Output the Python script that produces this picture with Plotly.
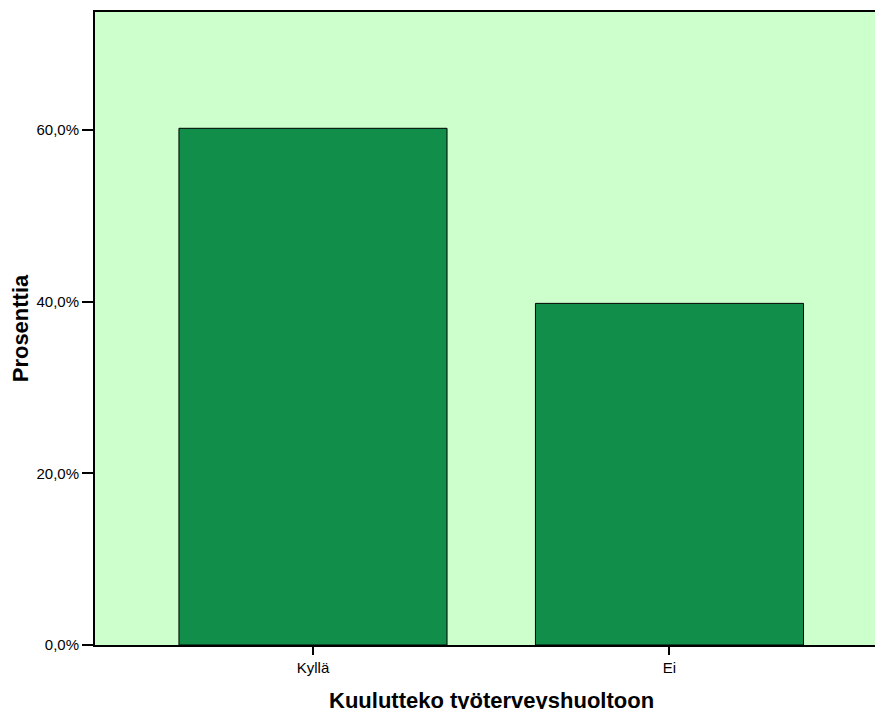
import plotly.graph_objects as go

# Data
categories = ["Kyllä", "Ei"]
percentages = [60.2, 39.8]
tick_values = [0, 20, 40, 60]
tick_labels = ["0,0%", "20,0%", "40,0%", "60,0%"]

fig = go.Figure()

fig.add_trace(go.Bar(
    x=[0, 1], y=percentages,
    width=0.752,
    marker=dict(color="#118E4A", line=dict(color="black", width=1)),
))

fig.update_layout(
    width=875, height=709,
    margin=dict(l=95, r=0, t=12, b=64),
    paper_bgcolor="white",
    plot_bgcolor="#CCFFCC",
    font=dict(family="Liberation Sans, Arial", color="black", size=15),
    showlegend=False,
    xaxis=dict(
        range=[-0.6115, 1.5765],
        tickvals=[0, 1], ticktext=categories,
        ticks="outside", ticklen=8, tickwidth=2, tickcolor="black",
        showline=True, linecolor="black", linewidth=2, mirror=True,
        showgrid=False, zeroline=False,
    ),
    yaxis=dict(
        range=[0, 73.75],
        tickvals=tick_values, ticktext=tick_labels,
        ticks="outside", ticklen=11, tickwidth=2, tickcolor="black",
        showline=True, linecolor="black", linewidth=2,
        showgrid=False, zeroline=False,
        title=dict(text="<b>Prosenttia</b>", font=dict(size=22), standoff=2),
    ),
)

fig.add_annotation(
    text="<b>Kuulutteko työterveyshuoltoon</b>",
    xref="x", yref="paper", x=0.5, y=-0.088,
    showarrow=False, font=dict(size=22), yanchor="middle",
)

# drop the default page margin so the figure fills the window exactly
fig.write_html(
    "out.html",
    config={"displayModeBar": False},
    post_script="document.body.style.margin='0';document.body.style.overflow='hidden';",
)
